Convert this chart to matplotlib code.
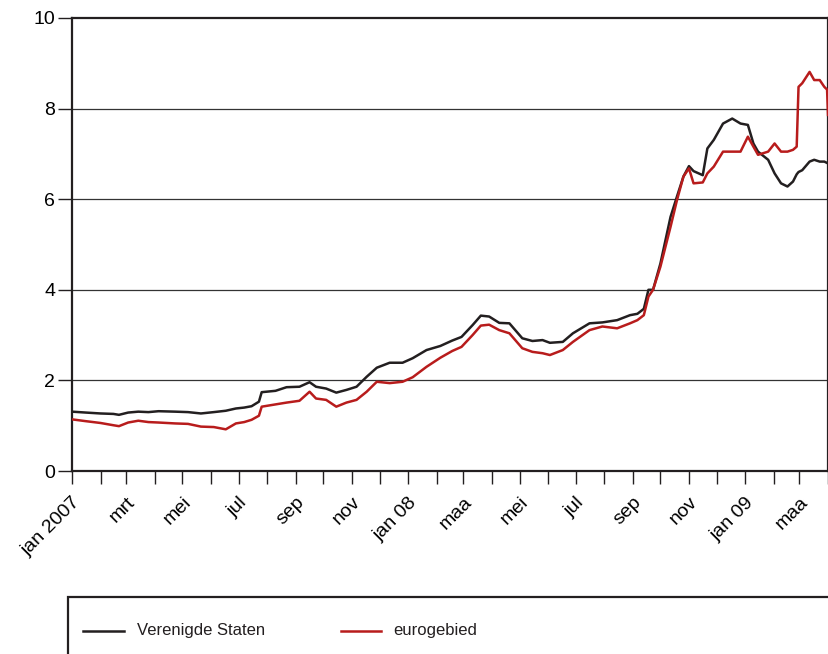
import matplotlib
matplotlib.use("Agg")
import matplotlib.pyplot as plt
import matplotlib.dates as mdates
from matplotlib.patches import Rectangle
from matplotlib.lines import Line2D
import pandas as pd

plt.rcParams['font.family'] = ['Liberation Sans', 'DejaVu Sans']

dates = ['2007-01-01', '2007-01-16', '2007-02-01', '2007-02-15', '2007-02-21', '2007-03-03',
         '2007-03-14', '2007-03-25', '2007-04-05', '2007-04-23', '2007-05-07', '2007-05-21',
         '2007-06-04', '2007-06-17', '2007-06-28', '2007-07-07', '2007-07-15', '2007-07-23',
         '2007-07-26', '2007-08-10', '2007-08-22', '2007-09-05', '2007-09-16', '2007-09-23',
         '2007-10-04', '2007-10-15', '2007-10-26', '2007-11-06', '2007-11-17', '2007-11-28',
         '2007-12-12', '2007-12-26', '2008-01-06', '2008-01-21', '2008-02-05', '2008-02-18',
         '2008-02-28', '2008-03-11', '2008-03-20', '2008-03-29', '2008-04-09', '2008-04-20',
         '2008-05-04', '2008-05-15', '2008-05-26', '2008-06-03', '2008-06-17', '2008-06-28',
         '2008-07-16', '2008-07-30', '2008-08-15', '2008-08-29', '2008-09-06', '2008-09-13',
         '2008-09-18', '2008-09-23', '2008-10-01', '2008-10-12', '2008-10-19', '2008-10-26',
         '2008-11-01', '2008-11-06', '2008-11-16', '2008-11-21', '2008-11-28', '2008-12-08',
         '2008-12-18', '2008-12-27', '2009-01-04', '2009-01-10', '2009-01-15', '2009-01-26',
         '2009-02-02', '2009-02-09', '2009-02-16', '2009-02-22', '2009-02-26', '2009-02-28',
         '2009-03-04', '2009-03-12', '2009-03-17', '2009-03-23', '2009-03-28', '2009-03-31',
         '2009-04-01']

us = [1.31, 1.29, 1.27, 1.26, 1.24, 1.29,
      1.31, 1.30, 1.32, 1.31, 1.30, 1.27,
      1.30, 1.33, 1.38, 1.40, 1.43, 1.53,
      1.74, 1.77, 1.85, 1.86, 1.96, 1.86,
      1.82, 1.73, 1.79, 1.86, 2.08, 2.28,
      2.39, 2.39, 2.49, 2.67, 2.76, 2.88,
      2.96, 3.22, 3.43, 3.41, 3.27, 3.26,
      2.93, 2.87, 2.89, 2.83, 2.85, 3.04,
      3.26, 3.28, 3.33, 3.44, 3.47, 3.58,
      4.00, 4.00, 4.58, 5.61, 6.06, 6.50,
      6.73, 6.62, 6.53, 7.12, 7.31, 7.67,
      7.78, 7.67, 7.64, 7.23, 7.05, 6.87,
      6.57, 6.35, 6.28, 6.39, 6.55, 6.60,
      6.64, 6.83, 6.87, 6.83, 6.83, 6.80,
      6.79]

ea = [1.14, 1.10, 1.06, 1.01, 0.99, 1.07,
      1.11, 1.08, 1.07, 1.05, 1.04, 0.98,
      0.97, 0.92, 1.05, 1.08, 1.13, 1.22,
      1.42, 1.47, 1.51, 1.55, 1.75, 1.60,
      1.57, 1.42, 1.51, 1.57, 1.75, 1.97,
      1.94, 1.97, 2.07, 2.30, 2.50, 2.65,
      2.74, 3.00, 3.21, 3.23, 3.11, 3.04,
      2.71, 2.63, 2.60, 2.56, 2.67, 2.85,
      3.11, 3.19, 3.15, 3.26, 3.33, 3.44,
      3.85, 4.00, 4.51, 5.39, 5.98, 6.50,
      6.68, 6.35, 6.37, 6.57, 6.72, 7.05,
      7.05, 7.05, 7.38, 7.16, 6.98, 7.05,
      7.23, 7.05, 7.05, 7.09, 7.16, 8.48,
      8.56, 8.81, 8.63, 8.63, 8.48, 8.42,
      7.86]

series_names = ['Verenigde Staten', 'eurogebied']
series_colors = ['#231f20', '#b81c1c']

month_labels = ['jan 2007', 'mrt', 'mei', 'jul', 'sep', 'nov',
                'jan 08', 'maa', 'mei', 'jul', 'sep', 'nov',
                'jan 09', 'maa']

y_ticks = [0, 2, 4, 6, 8, 10]

W, H = 829, 654
fig = plt.figure(figsize=(W / 100, H / 100), dpi=100)
ax = fig.add_axes([72 / W, 1 - 471 / H, (828 - 72) / W, (471 - 18) / H])

x = pd.to_datetime(dates)
ax.plot(x, us, color=series_colors[0], lw=1.8, solid_joinstyle='round', zorder=3)
ax.plot(x, ea, color=series_colors[1], lw=1.8, solid_joinstyle='round', zorder=4)

ax.set_xlim(pd.Timestamp('2007-01-01'), pd.Timestamp('2009-04-01'))
ax.set_ylim(0, 10)

major = pd.date_range('2007-01-01', periods=len(month_labels), freq='2MS')
ax.set_xticks(major)
ax.set_xticklabels(month_labels, rotation=45, ha='right', rotation_mode='anchor')
ax.xaxis.set_minor_locator(mdates.MonthLocator())
ax.tick_params(axis='x', which='both', length=9.5, width=1.0, direction='out',
               labelsize=14, pad=7, color='#231f20')
ax.set_yticks(y_ticks)
ax.set_yticklabels([str(v) for v in y_ticks])
ax.tick_params(axis='y', length=10, width=1.0, direction='out', labelsize=14,
               pad=2, color='#231f20')

for v in y_ticks[1:-1]:
    ax.axhline(v, color='#333333', lw=0.9, zorder=1)

for s in ax.spines.values():
    s.set_linewidth(1.6)
    s.set_color('#231f20')

# legend box (extends past the figure edge)
fig.patches.append(Rectangle((68 / W, 1 - 680 / H), (860 - 68) / W, (680 - 597) / H,
                             transform=fig.transFigure, fill=False,
                             lw=1.6, edgecolor='#231f20'))
ly = 1 - 631 / H
entries_x = [(83, 124, 137), (341, 381, 393)]
for (x0, x1, tx), name, col in zip(entries_x, series_names, series_colors):
    fig.lines.append(Line2D([x0 / W, x1 / W], [ly, ly], transform=fig.transFigure,
                            color=col, lw=1.8))
    fig.text(tx / W, ly, name, fontsize=12, va='center', ha='left', color='#231f20')

fig.savefig('out.png', dpi=100)
